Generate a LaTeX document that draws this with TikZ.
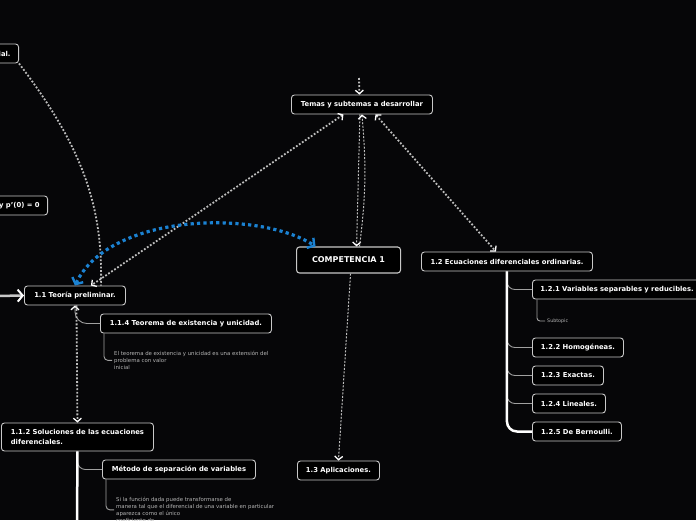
\documentclass[tikz,border=0pt]{standalone}
\usepackage{fontspec}
\setmainfont{DejaVu Sans}
\usetikzlibrary{arrows.meta}
\definecolor{bgdark}{HTML}{060608}
\definecolor{boxline}{HTML}{C8C8C8}
\definecolor{dotgray}{HTML}{BDBDBD}
\definecolor{linkblue}{HTML}{1B82D2}
\definecolor{notegray}{HTML}{B4B4B4}
\begin{document}
\begin{tikzpicture}[x=1pt, y=-1pt, >={Straight Barb[length=3.5pt,width=8pt,line width=1.3pt,color=white]}]
			\useasboundingbox (0,0) rectangle (696,520);
			\fill[bgdark] (0,0) rectangle (696,520);
			\clip (0,0) rectangle (696,520);
			\tikzstyle{topic}=[draw=boxline, fill=black, rounded corners=3pt, line width=0.9pt, text=white, font=\bfseries\fontsize{6.8}{8.5}\selectfont, inner xsep=8pt, inner ysep=0pt, minimum height=19pt, align=left]
			\tikzstyle{note}=[text=notegray, font=\fontsize{5.4}{7}\selectfont, anchor=north west, align=left, inner sep=0pt]
			\tikzstyle{graydots}=[dotgray, line width=1.8pt, dash pattern=on 1.8pt off 1.8pt]
			\tikzstyle{thindots}=[dotgray, line width=1pt, dash pattern=on 2pt off 1.5pt]
			\tikzstyle{bluedots}=[linkblue, line width=3.2pt, dash pattern=on 3.2pt off 3.2pt, arrows={Straight Barb[length=5pt,width=12pt,line width=2.4pt]-Straight Barb[length=5pt,width=12pt,line width=2.4pt]}]
			\tikzstyle{branch}=[boxline!80!black, line width=0.9pt]
			\tikzstyle{spine}=[white, line width=2.5pt]
			\tikzstyle{bigarrow}=[boxline, line width=2.5pt, arrows={-Straight Barb[length=5pt,width=12pt,line width=2pt,color=white]}]
			\coordinate (L) at (-5,296);
			\coordinate (S) at (359,78);
			\coordinate (B) at (77,530);
			\node[topic, anchor=east] (ial) at (19,53.5) {ial.};
			\node[topic, anchor=east] (py) at (48,205.5) {y p'(0) = 0};
			\node[topic, anchor=west, minimum width=141pt] (temas) at (291,104.5) {Temas y subtemas a desarrollar};
			\node[topic, anchor=west, minimum width=104pt, minimum height=26pt, font=\bfseries\fontsize{8}{10}\selectfont, line width=1.1pt] (comp) at (296,260) {COMPETENCIA 1};
			\node[topic, anchor=west, minimum width=101pt] (t11) at (24,295.5) {1.1 Teoría preliminar.};
			\node[topic, anchor=west, minimum width=171pt] (t114) at (100,323.5) {1.1.4 Teorema de existencia y unicidad.};
			\node[topic, anchor=west, minimum width=152pt, minimum height=28pt, font=\bfseries\fontsize{6.8}{10}\selectfont] (t112) at (1,437) {1.1.2 Soluciones de las ecuaciones\\diferenciales.};
			\node[topic, anchor=west, minimum width=153pt] (metodo) at (102,469.5) {Método de separación de variables};
			\node[topic, anchor=west, minimum width=171pt] (t12) at (421,261.5) {1.2 Ecuaciones diferenciales ordinarias.};
			\node[topic, anchor=west] (t121) at (532,289.5) {1.2.1 Variables separables y reducibles.};
			\node[topic, anchor=west, minimum width=91pt] (t122) at (532,347.5) {1.2.2 Homogéneas.};
			\node[topic, anchor=west, minimum width=71pt] (t123) at (532,375.5) {1.2.3 Exactas.};
			\node[topic, anchor=west, minimum width=73pt] (t124) at (532,403.5) {1.2.4 Lineales.};
			\node[topic, anchor=west, minimum width=89pt] (t125) at (532,431.5) {1.2.5 De Bernoulli.};
			\node[topic, anchor=west, minimum width=82pt] (t13) at (297,470.5) {1.3 Aplicaciones.};
			\node[note] (n114) at (114,351) {El teorema de existencia y unicidad es una extensión del\\problema con valor\\inicial};
			\node[note] (nmet) at (116,497) {Si la función dada puede transformarse de\\manera tal que el diferencial de una variable en particular\\aparezca como el único\\coeficiente de};
			\node[note, anchor=west, font=\fontsize{4.8}{6}\selectfont] (sub) at (547,321) {Subtopic};
			\draw[bigarrow] (L) -- (t11.west);
			\draw[graydots, ->] (S) -- ([xshift=-2.5pt]temas.north);
			\draw[graydots] (ial.south east) .. controls (85,150) and (103,210) .. ([xshift=26pt]t11.north);
			\draw[graydots, <->] ([xshift=-18.5pt]temas.south) -- ([xshift=16pt]t11.north);
			\draw[graydots, <->] ([xshift=13.5pt]temas.south) -- ([xshift=-11pt]t12.north);
			\draw[thindots, ->] ([xshift=-2pt]temas.south) -- ([xshift=8pt]comp.north);
			\draw[thindots, ->] ([xshift=11pt]comp.north) to[bend right=6] (temas.south);
			\draw[thindots, ->] ([xshift=2pt]comp.south) -- (t13.north);
			\draw[bluedots] (t11.north) .. controls (110,212) and (260,210) .. ([xshift=-33pt]comp.north);
			\draw[branch, rounded corners=12pt, ->] (t114.west) -| (t11.south);
			\draw[graydots, ->] ([xshift=1.5pt]t11.south) -- (t112.north);
			\draw[branch, rounded corners=4pt] ([xshift=4pt]t114.south west) |- ([xshift=-2pt]n114.west);
			\draw[branch, rounded corners=4pt] ([xshift=4pt]metodo.south west) |- ([xshift=-2pt]nmet.west);
			\draw[branch, rounded corners=3pt] ([xshift=5pt]t121.south west) |- ([xshift=-2pt]sub.west);
			\draw[branch, rounded corners=8pt] (t112.south) |- (metodo.west);
			\draw[branch, rounded corners=8pt] (t12.south) |- (t121.west);
			\draw[branch, rounded corners=8pt] (t12.south) |- (t122.west);
			\draw[branch, rounded corners=8pt] (t12.south) |- (t123.west);
			\draw[branch, rounded corners=8pt] (t12.south) |- (t124.west);
			\draw[spine, rounded corners=10pt] (t12.south) |- (t125.west);
			\draw[spine] (t112.south) -- (B);
		\end{tikzpicture}
\end{document}
